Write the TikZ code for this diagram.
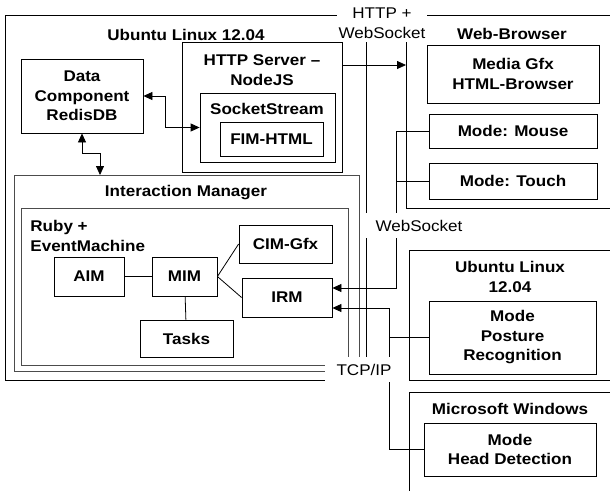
\documentclass[tikz,border=0pt]{standalone}
\usepackage{fontspec}
\setmainfont{Liberation Sans}[FakeStretch=1.1]
\usetikzlibrary{arrows.meta}
\newcommand{\framecol}{black!70}
\newcommand{\txtsize}{\fontsize{15.5}{19.5}\selectfont}

\begin{document}
\begin{tikzpicture}[x=1pt, y=-1pt, line width=0.8pt, font=\txtsize,
    box/.style={draw, align=center, inner sep=0pt, font=\txtsize\bfseries},
    hostbox/.style={draw, inner sep=0pt},
    title/.style={align=center, inner sep=0pt, font=\txtsize\bfseries},
    netlabel/.style={fill=white, align=center, inner sep=0pt},
    tip/.style={-{Triangle[length=9pt,width=8pt]}},
    both/.style={{Triangle[length=9pt,width=8pt]}-{Triangle[length=9pt,width=8pt]}}]

    \useasboundingbox (0,0) rectangle (610,491);

    % linker Rechner
    \node[hostbox, minimum width=361pt, minimum height=365pt] (ubuntu) at (185.5, 197.5) {};
    \node[title] (ubuntut) at (186, 35) {Ubuntu Linux 12.04};

    \node[hostbox, minimum width=160pt, minimum height=130pt] (http) at (262, 107) {};
    \node[title] (httpt) at (262, 70) {HTTP Server –\\NodeJS};
    \node[hostbox, minimum width=135pt, minimum height=69pt] (sock) at (267.5, 127.5) {};
    \node[title] (sockt) at (267, 109) {SocketStream};
    \node[box, minimum width=103pt, minimum height=34pt] (fim) at (271.5, 139) {FIM-HTML};

    \node[box, minimum width=122pt, minimum height=74pt] (data) at (82, 96) {Data\\Component\\RedisDB};

    \node[hostbox, draw=\framecol, minimum width=345pt, minimum height=196pt] (im) at (186.5, 273) {};
    \node[title] (imt) at (186, 193) {Interaction Manager};
    \node[hostbox, draw=\framecol, minimum width=327pt, minimum height=157pt] (ruby) at (184.5, 286.5) {};
    \node[title, align=left, anchor=west] (rubyt) at (30, 236) {Ruby +\\EventMachine};

    \node[box, minimum width=70pt, minimum height=39pt] (aim) at (89, 276.5) {AIM};
    \node[box, minimum width=65pt, minimum height=39pt] (mim) at (184.5, 276.5) {MIM};
    \node[box, minimum width=93pt, minimum height=37pt] (tasks) at (186.5, 338.5) {Tasks};
    \node[box, minimum width=93pt, minimum height=38pt] (cim) at (285.5, 244) {CIM-Gfx};
    \node[box, minimum width=90pt, minimum height=39pt] (irm) at (287, 297.5) {IRM};

    % rechte Rechner
    \draw (610, 15) -- (406, 15) -- (406, 208) -- (610, 208);
    \node[title] (webt) at (512, 34) {Web-Browser};
    \node[box, minimum width=172pt, minimum height=58pt] (media) at (513, 74) {Media Gfx\\HTML-Browser};
    \node[box, minimum width=168pt, minimum height=34pt] (mouse) at (513, 131) {Mode: Mouse};
    \node[box, minimum width=168pt, minimum height=36pt] (touch) at (513, 181) {Mode: Touch};

    \draw (610, 250) -- (409, 250) -- (409, 380) -- (610, 380);
    \node[title] (ubuntu2t) at (510, 277) {Ubuntu Linux\\12.04};
    \node[box, minimum width=167pt, minimum height=73pt] (posture) at (512.5, 337.5) {Mode\\Posture\\Recognition};

    \draw (610, 392) -- (409, 392) -- (409, 491);
    \node[title] (wint) at (510, 409) {Microsoft Windows};
    \node[box, minimum width=172pt, minimum height=53pt] (head) at (510, 449.5) {Mode\\Head Detection};

    \coordinate (wbin) at (406, 65);
    \coordinate (imin) at (100, 175);
    \coordinate (wsbus) at (396, 288);
    \coordinate (tcpbus) at (389, 308);

    \draw[both] (data.east) -- ++(22, 0) |- (sock.west);
    \draw[both] (data.south) -- ++(0, 20) -| (imin);
    \draw[tip] (http.east |- wbin) -- (wbin);

    \draw (aim) -- (mim);
    \draw (mim.east) -- (cim.west);
    \draw (mim.east) -- (irm.west);
    \draw (mim) -- (tasks);

    \draw[tip] (mouse.west) -| (wsbus) -- (irm.east |- wsbus);
    \draw (touch.west) -- (touch.west -| wsbus);
    \draw[tip] (head.west) -| (tcpbus) -- (irm.east |- tcpbus);
    \draw (posture.west) -- (posture.west -| tcpbus);

    % Netze
    \node[netlabel, minimum width=90pt, minimum height=36.5pt] (httpnet) at (382, 23.25) {HTTP +\\WebSocket};
    \node[netlabel, minimum width=114pt, minimum height=25pt] (wsnet) at (419, 225.5) {WebSocket};
    \node[netlabel, minimum width=78pt, minimum height=25pt] (tcpnet) at (364, 369.5) {TCP/IP};

\end{tikzpicture}
\end{document}
